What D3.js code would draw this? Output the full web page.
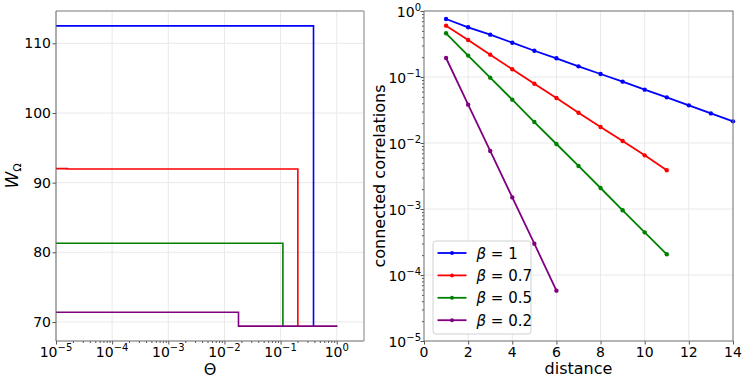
<!DOCTYPE html>
<html>
<head>
<meta charset="utf-8">
<script src="https://cdn.jsdelivr.net/npm/d3@7"></script>
<style>
body { margin: 0; background: #fff; }
text { font-family: "DejaVu Sans", sans-serif; fill: #000; }
</style>
</head>
<body>
<div id="chart"></div>
<script>
var width = 748, height = 385;

var colors = ["#0000ff", "#ff0000", "#008000", "#800080"];
var betaLabels = ["1", "0.7", "0.5", "0.2"];

// left panel: step curves W_Omega(Theta), vertices
var thetaBlue = [1e-5, 0.386, 0.386];
var wBlue = [112.5, 112.5, 69.4];
var thetaRed = [1e-5, 1.6e-5, 1.6e-5, 0.203, 0.203];
var wRed = [92.02, 92.02, 91.96, 91.96, 69.4];
var thetaGreen = [1e-5, 0.11, 0.11];
var wGreen = [81.3, 81.3, 69.4];
var thetaPurple = [1e-5, 0.0178, 0.0178, 1.03];
var wPurple = [71.4, 71.4, 69.4, 69.4];
var leftTicksY = [70, 80, 90, 100, 110];
var leftTicksX = [-5, -4, -3, -2, -1, 0];

// right panel: connected correlations vs distance
var dist1 = [1, 2, 3, 4, 5, 6, 7, 8, 9, 10, 11, 12, 13, 14];
var corr1 = [0.757, 0.566, 0.438, 0.331, 0.250, 0.192, 0.145, 0.111, 0.0850, 0.0643, 0.0492, 0.0372, 0.0281, 0.0213];
var dist07 = [1, 2, 3, 4, 5, 6, 7, 8, 9, 10, 11];
var corr07 = [0.600, 0.364, 0.218, 0.131, 0.0792, 0.0481, 0.0288, 0.0175, 0.0107, 0.0065, 0.00386];
var dist05 = [1, 2, 3, 4, 5, 6, 7, 8, 9, 10, 11];
var corr05 = [0.459, 0.211, 0.0977, 0.0454, 0.0208, 0.00966, 0.00449, 0.00208, 0.000955, 0.000443, 0.000206];
var dist02 = [1, 2, 3, 4, 5, 6];
var corr02 = [0.194, 0.0381, 0.00757, 0.00150, 0.000298, 0.0000579];
var rightTicksX = [0, 2, 4, 6, 8, 10, 12, 14];
var rightTicksY = [0, -1, -2, -3, -4, -5];

var svg = d3.select("#chart").append("svg")
    .attr("width", width)
    .attr("height", height);

var gridColor = "#e9e9e9";

function minorLog(lo, hi) {
    var out = [];
    for (var e = lo; e < hi; e++)
        for (var k = 2; k < 10; k++) out.push(k * Math.pow(10, e));
    return out;
}

function powLabel(sel, e) {
    sel.append("tspan").text("10");
    sel.append("tspan").attr("dy", -6).attr("font-size", "10px")
        .text(e < 0 ? "\u2212" + (-e) : e);
}

// ---------- left panel ----------
var L = { left: 56, right: 364, top: 11, bottom: 341 };
var xL = d3.scaleLog().domain([1e-5, 3.06]).range([L.left, L.right]);
var yL = d3.scaleLinear().domain([67.27, 114.64]).range([L.bottom, L.top]);

var gl = svg.append("g");
leftTicksX.forEach(function (e) {
    gl.append("line").attr("x1", xL(Math.pow(10, e))).attr("x2", xL(Math.pow(10, e)))
        .attr("y1", L.top).attr("y2", L.bottom).attr("stroke", gridColor);
});
leftTicksY.forEach(function (v) {
    gl.append("line").attr("x1", L.left).attr("x2", L.right)
        .attr("y1", yL(v)).attr("y2", yL(v)).attr("stroke", gridColor);
});

gl.append("g").attr("transform", "translate(0," + L.bottom + ")")
    .call(d3.axisBottom(xL).tickValues(leftTicksX.map(function (e) { return Math.pow(10, e); }))
        .tickSize(3.5).tickSizeOuter(0).tickFormat(""))
    .call(function (g) { g.select(".domain").remove(); g.selectAll("line").attr("stroke", "#555"); });
gl.append("g").attr("transform", "translate(0," + L.bottom + ")")
    .call(d3.axisBottom(xL).tickValues(minorLog(-5, 0)).tickSize(2).tickSizeOuter(0).tickFormat(""))
    .call(function (g) { g.select(".domain").remove(); g.selectAll("line").attr("stroke", "#555"); });
gl.append("g").attr("transform", "translate(" + L.left + ",0)")
    .call(d3.axisLeft(yL).tickValues(leftTicksY).tickSize(3.5).tickSizeOuter(0).tickFormat(""))
    .call(function (g) { g.select(".domain").remove(); g.selectAll("line").attr("stroke", "#555"); });

leftTicksX.forEach(function (e) {
    var t = gl.append("text").attr("x", xL(Math.pow(10, e))).attr("y", 357)
        .attr("text-anchor", "middle").attr("font-size", "14px");
    powLabel(t, e);
});
leftTicksY.forEach(function (v) {
    gl.append("text").attr("x", 51).attr("y", yL(v) + 5)
        .attr("text-anchor", "end").attr("font-size", "14px").text(v);
});

var stepLine = d3.line().x(function (d) { return xL(d[0]); }).y(function (d) { return yL(d[1]); });
[[thetaBlue, wBlue], [thetaRed, wRed], [thetaGreen, wGreen], [thetaPurple, wPurple]].forEach(function (s, i) {
    gl.append("path").datum(d3.zip(s[0], s[1]))
        .attr("d", stepLine).attr("fill", "none")
        .attr("stroke", colors[i]).attr("stroke-width", 1.6);
});

gl.append("path").attr("d", "M" + L.left + "," + L.top + "H" + L.right)
    .attr("stroke", "#777").attr("fill", "none");
gl.append("path").attr("d", "M" + L.left + "," + L.top + "V" + L.bottom + "H" + L.right)
    .attr("stroke", "#666").attr("fill", "none");
gl.append("path").attr("d", "M" + L.right + "," + L.top + "V" + L.bottom)
    .attr("stroke", "#b0b0b0").attr("stroke-width", 1.6).attr("fill", "none");

var wl = gl.append("text").attr("transform", "translate(18,176) rotate(-90)")
    .attr("text-anchor", "middle").attr("font-size", "17px");
wl.append("tspan").attr("font-style", "italic").text("W");
wl.append("tspan").attr("dy", 3).attr("font-size", "11px").text("\u03a9");

gl.append("text").attr("x", (L.left + L.right) / 2).attr("y", 375)
    .attr("text-anchor", "middle").attr("font-size", "16px").text("\u0398");

// ---------- right panel ----------
var R = { left: 424, right: 733, top: 11, bottom: 341 };
var xR = d3.scaleLinear().domain([0, 14]).range([R.left, R.right]);
var yR = d3.scaleLog().domain([1e-5, 1]).range([R.bottom, R.top]);

var gr = svg.append("g");
rightTicksX.forEach(function (v) {
    gr.append("line").attr("x1", xR(v)).attr("x2", xR(v))
        .attr("y1", R.top).attr("y2", R.bottom).attr("stroke", gridColor);
});
rightTicksY.forEach(function (e) {
    gr.append("line").attr("x1", R.left).attr("x2", R.right)
        .attr("y1", yR(Math.pow(10, e))).attr("y2", yR(Math.pow(10, e))).attr("stroke", gridColor);
});

gr.append("g").attr("transform", "translate(0," + R.bottom + ")")
    .call(d3.axisBottom(xR).tickValues(rightTicksX).tickSize(3.5).tickSizeOuter(0).tickFormat(""))
    .call(function (g) { g.select(".domain").remove(); g.selectAll("line").attr("stroke", "#555"); });
gr.append("g").attr("transform", "translate(" + R.left + ",0)")
    .call(d3.axisLeft(yR).tickValues(rightTicksY.map(function (e) { return Math.pow(10, e); }))
        .tickSize(3.5).tickSizeOuter(0).tickFormat(""))
    .call(function (g) { g.select(".domain").remove(); g.selectAll("line").attr("stroke", "#555"); });
gr.append("g").attr("transform", "translate(" + R.left + ",0)")
    .call(d3.axisLeft(yR).tickValues(minorLog(-5, 0)).tickSize(2).tickSizeOuter(0).tickFormat(""))
    .call(function (g) { g.select(".domain").remove(); g.selectAll("line").attr("stroke", "#555"); });

rightTicksX.forEach(function (v) {
    gr.append("text").attr("x", xR(v)).attr("y", 357)
        .attr("text-anchor", "middle").attr("font-size", "14px").text(v);
});
rightTicksY.forEach(function (e) {
    var t = gr.append("text").attr("x", 421).attr("y", yR(Math.pow(10, e)) + 6.3)
        .attr("text-anchor", "end").attr("font-size", "14px");
    powLabel(t, e);
});

var corrLine = d3.line().x(function (d) { return xR(d[0]); }).y(function (d) { return yR(d[1]); });
[[dist1, corr1], [dist07, corr07], [dist05, corr05], [dist02, corr02]].forEach(function (s, i) {
    var pts = d3.zip(s[0], s[1]);
    var g = gr.append("g");
    g.append("path").datum(pts).attr("d", corrLine).attr("fill", "none")
        .attr("stroke", colors[i]).attr("stroke-width", 1.8);
    g.selectAll("circle").data(pts).enter().append("circle")
        .attr("cx", function (d) { return xR(d[0]); })
        .attr("cy", function (d) { return yR(d[1]); })
        .attr("r", 2.2).attr("fill", colors[i]);
});

gr.append("rect").attr("x", R.left).attr("y", R.top)
    .attr("width", R.right - R.left).attr("height", R.bottom - R.top)
    .attr("fill", "none").attr("stroke", "#777");

// legend
var lg = gr.append("g").attr("transform", "translate(433,241)");
lg.append("rect").attr("width", 98).attr("height", 93).attr("rx", 3)
    .attr("fill", "#fff").attr("fill-opacity", 0.8).attr("stroke", "#d0d0d0");
betaLabels.forEach(function (b, i) {
    var y = 12 + i * 22.4;
    lg.append("line").attr("x1", 4.5).attr("x2", 33.5).attr("y1", y).attr("y2", y)
        .attr("stroke", colors[i]).attr("stroke-width", 1.8);
    lg.append("circle").attr("cx", 19).attr("cy", y).attr("r", 2).attr("fill", colors[i]);
    var t = lg.append("text").attr("x", 43.5).attr("y", y + 5.5).attr("font-size", "15px");
    t.append("tspan").attr("font-style", "italic").text("\u03b2");
    t.append("tspan").text(" = " + b);
});

gr.append("text").attr("transform", "translate(385,176) rotate(-90)")
    .attr("text-anchor", "middle").attr("font-size", "16px").text("connected correlations");
gr.append("text").attr("x", (R.left + R.right) / 2).attr("y", 374)
    .attr("text-anchor", "middle").attr("font-size", "16px").text("distance");
</script>
</body>
</html>
